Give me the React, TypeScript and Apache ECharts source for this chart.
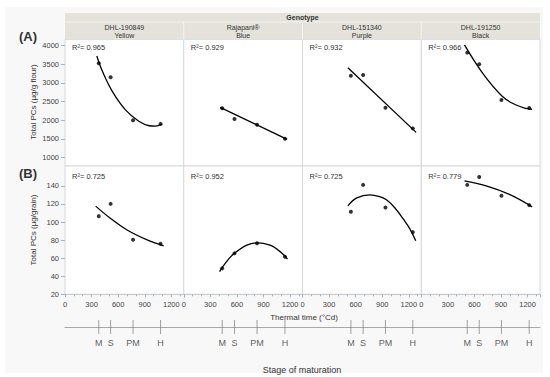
import React, { useEffect, useRef } from 'react';
import * as echarts from 'echarts';

// ---------- data ----------
const genotypes = ['DHL-190849', 'Rajapani®', 'DHL-151340', 'DHL-191250'];
const grainColours = ['Yellow', 'Blue', 'Purple', 'Black'];
const stageLabels = ['M', 'S', 'PM', 'H'];
// thermal time (°Cd) of each stage, per genotype
const thermalTime = [
  [381, 515, 768, 1078],
  [434, 573, 827, 1142],
  [546, 684, 936, 1245],
  [519, 654, 905, 1218],
];
const flourPCs = [
  [3527, 3150, 2000, 1900],
  [2317, 2030, 1876, 1500],
  [3194, 3212, 2333, 1780],
  [3812, 3500, 2540, 2325],
];
const grainPCs = [
  [106.5, 120.1, 80.3, 75.9],
  [48.7, 65.3, 76.4, 61.5],
  [111.3, 141.1, 116.1, 88.8],
  [141.1, 149.9, 129, 118.7],
];
const flourR2 = ['0.965', '0.929', '0.932', '0.966'];
const grainR2 = ['0.725', '0.952', '0.725', '0.779'];
// fitted curves
const flourFit = [
  [[359, 3723], [426, 3290], [537, 2760], [685, 2270], [833, 1970], [950, 1850], [1019, 1838], [1096, 1893]],
  [[411, 2344], [1167, 1484]],
  [[512, 3409], [1282, 1672]],
  [[488, 4019], [694, 3258], [920, 2629], [1071, 2406], [1180, 2317], [1251, 2293]],
];
const grainFit = [
  [[346, 117.6], [507, 104.5], [696, 91.5], [921, 80.5], [1113, 73.7]],
  [[404, 45], [470, 54.5], [561, 64.5], [712, 74.5], [840, 77], [975, 74.3], [1051, 70], [1136, 63], [1170, 59]],
  [[512, 117.9], [613, 126.8], [763, 130], [860, 128.3], [951, 124.4], [1050, 114.7], [1139, 103.1], [1210, 92.7], [1278, 79.2]],
  [[488, 145.5], [733, 140], [995, 130.5], [1251, 116.8]],
];
const flourTicks = [1000, 1500, 2000, 2500, 3000, 3500, 4000];
const grainTicks = [20, 40, 60, 80, 100, 120, 140];

// ---------- layout ----------
const FONT = "'Liberation Sans', Arial, sans-serif";
const L = 65;
const PW = 118.75;
const TOP1 = 39.3;
const H1 = 126.7;
const TOP2 = 166;
const H2 = 128.3;
const XMAX = 1340;

export default function App() {
  const ref = useRef<HTMLDivElement>(null);
  useEffect(() => {
    if (!ref.current) return;
    const chart = echarts.init(ref.current, undefined, { renderer: 'svg' });
    const grids: any[] = [];
    const xAxes: any[] = [];
    const yAxes: any[] = [];
    const series: any[] = [];
    const tickStyle = { color: '#9fb2c6' };
    const labelStyle = { fontSize: 7.5, color: '#444', fontFamily: FONT };
    for (let i = 0; i < 4; i++) {
      grids.push({ left: L + i * PW, top: TOP1, width: PW, height: H1, show: true, backgroundColor: '#fff', borderColor: '#d8d8d8', borderWidth: 1 });
    }
    for (let i = 0; i < 4; i++) {
      grids.push({ left: L + i * PW, top: TOP2, width: PW, height: H2, show: true, backgroundColor: '#fff', borderColor: '#d8d8d8', borderWidth: 1 });
    }
    for (let i = 0; i < 4; i++) {
      grids.push({ left: L + i * PW, top: 320, width: PW, height: 14, show: false });
    }
    for (let i = 0; i < 4; i++) {
      xAxes.push({ gridIndex: i, type: 'value', min: 0, max: XMAX, show: false });
      yAxes.push({
        gridIndex: i, type: 'value', min: 770, max: 4170, show: i === 0,
        axisLine: { show: false }, splitLine: { show: false },
        axisTick: { show: true, customValues: flourTicks, length: 4, lineStyle: tickStyle },
        axisLabel: { customValues: flourTicks, formatter: (v: number) => String(v), margin: 6, ...labelStyle },
      });
    }
    for (let i = 0; i < 4; i++) {
      xAxes.push({
        gridIndex: 4 + i, type: 'value', min: 0, max: XMAX, interval: 300,
        axisLine: { show: true, lineStyle: { color: '#c8c8c8' } },
        axisTick: { show: true, length: 3, lineStyle: tickStyle },
        minorTick: { show: true, splitNumber: 3, length: 2, lineStyle: tickStyle },
        splitLine: { show: false },
        axisLabel: { formatter: (v: number) => (v % 300 === 0 ? String(v) : ''), margin: 6, ...labelStyle },
      });
      yAxes.push({
        gridIndex: 4 + i, type: 'value', min: 20, max: 162, show: i === 0,
        axisLine: { show: false }, splitLine: { show: false },
        axisTick: { show: true, customValues: grainTicks, length: 4, lineStyle: tickStyle },
        axisLabel: { customValues: grainTicks, formatter: (v: number) => String(v), margin: 6, ...labelStyle },
      });
    }
    for (let i = 0; i < 4; i++) {
      xAxes.push({
        gridIndex: 8 + i, type: 'value', min: 0, max: XMAX,
        axisLine: { show: true, onZero: true, lineStyle: { color: '#a8a8a8' } },
        axisTick: { show: false }, axisLabel: { show: false }, splitLine: { show: false },
      });
      yAxes.push({ gridIndex: 8 + i, type: 'value', min: -1, max: 1, show: false });
    }
    for (let i = 0; i < 4; i++) {
      series.push({
        type: 'line', xAxisIndex: i, yAxisIndex: i, data: flourFit[i], smooth: 0.4, symbol: 'none',
        lineStyle: { color: '#000', width: 1.3 }, silent: true,
      });
      series.push({
        type: 'scatter', xAxisIndex: i, yAxisIndex: i, symbolSize: 4, itemStyle: { color: '#000' },
        data: thermalTime[i].map((x, j) => [x, flourPCs[i][j]]),
      });
      series.push({
        type: 'line', xAxisIndex: 4 + i, yAxisIndex: 4 + i, data: grainFit[i], smooth: 0.4, symbol: 'none',
        lineStyle: { color: '#000', width: 1.3 }, silent: true,
      });
      series.push({
        type: 'scatter', xAxisIndex: 4 + i, yAxisIndex: 4 + i, symbolSize: 4, itemStyle: { color: '#000' },
        data: thermalTime[i].map((x, j) => [x, grainPCs[i][j]]),
      });
      series.push({
        type: 'scatter', xAxisIndex: 8 + i, yAxisIndex: 8 + i, symbol: 'rect', symbolSize: [1, 14],
        itemStyle: { color: '#8a8a8a' },
        data: thermalTime[i].map((x, j) => ({ name: stageLabels[j], value: [x, 0] })),
        label: { show: true, position: 'bottom', distance: 4, formatter: '{b}', fontSize: 9, color: '#333', fontFamily: FONT },
      });
    }

    const txt = (x: number, y: number, text: string, size: number, extra: any = {}) => ({
      type: 'text', x, y, ...(extra.rotation ? { rotation: extra.rotation } : {}),
      style: { text, fontSize: size, fill: '#333', align: extra.align || 'center', verticalAlign: 'middle', fontFamily: FONT, fontWeight: extra.bold ? 'bold' : 'normal' },
    });

    const graphic: any[] = [
      { type: 'rect', z: -10, shape: { x: 5, y: 7, width: 538, height: 366 }, style: { fill: '#f8f8f8' }, silent: true },
      { type: 'rect', shape: { x: L, y: 13, width: PW * 4, height: 26.3 }, style: { fill: '#e4e2da' }, silent: true },
      { type: 'line', shape: { x1: L, y1: 22, x2: L + PW * 4, y2: 22 }, style: { stroke: '#f4f3ef', lineWidth: 1 }, silent: true },
      txt(L + PW * 2, 17.5, 'Genotype', 7, { bold: true }),
      txt(28, 36, '(A)', 13, { bold: true }),
      txt(28, 173, '(B)', 13, { bold: true }),
      txt(33, 102, 'Total PCs (µg/g flour)', 8, { rotation: Math.PI / 2 }),
      txt(33, 230, 'Total PCs (µg/grain)', 8, { rotation: Math.PI / 2 }),
      txt(304, 317.5, 'Thermal time (°Cd)', 8),
      txt(302, 370, 'Stage of maturation', 9),
    ];
    for (let i = 0; i < 4; i++) {
      const cx = L + i * PW + PW / 2;
      if (i > 0) {
        graphic.push({ type: 'line', shape: { x1: L + i * PW, y1: 22, x2: L + i * PW, y2: 39.3 }, style: { stroke: '#f4f3ef', lineWidth: 1 }, silent: true });
      }
      graphic.push(txt(cx, 27.5, genotypes[i], 7));
      graphic.push(txt(cx, 35, grainColours[i], 7));
      graphic.push(txt(L + i * PW + 7, 47.7, 'R²= ' + flourR2[i], 7.5, { align: 'left' }));
      graphic.push(txt(L + i * PW + 7, 176, 'R²= ' + grainR2[i], 7.5, { align: 'left' }));
    }

    chart.setOption({
      animation: false,
      backgroundColor: '#fff',
      grid: grids,
      xAxis: xAxes,
      yAxis: yAxes,
      series,
      graphic,
    });
    return () => chart.dispose();
  }, []);
  return <div ref={ref} style={{ position: 'fixed', left: 0, top: 0, width: 550, height: 377 }} />;
}
